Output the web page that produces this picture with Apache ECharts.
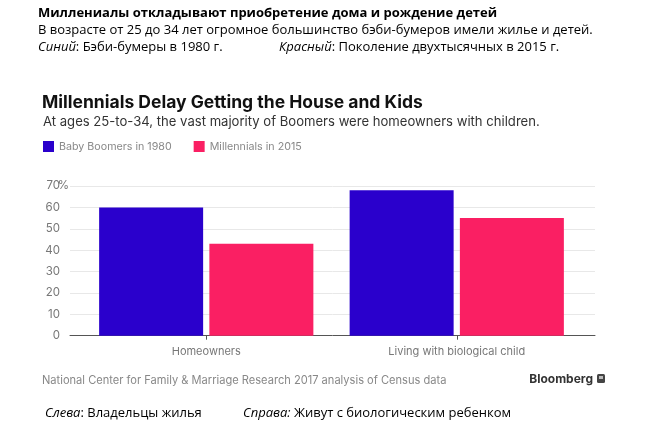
<!DOCTYPE html>
<html><head><meta charset="utf-8">
<script src="https://cdn.jsdelivr.net/npm/echarts@6/dist/echarts.min.js"></script>
<style>html,body{margin:0;padding:0;background:#fff}#c{width:650px;height:431px}</style>
</head><body><div id="c"></div>
<script>
const categories = ['Homeowners', 'Living with biological child'];
const boomers1980 = [60, 68];
const millennials2015 = [43, 55];
const yTicks = [0, 10, 20, 30, 40, 50, 60, 70];
const seriesNames = ['Baby Boomers in 1980', 'Millennials in 2015'];

const chart = echarts.init(document.getElementById('c'));
const ruFont = '"Open Sans", "Noto Sans", sans-serif';
const enFont = 'Inter, Roboto, sans-serif';
const gridTop = 186, gridBottom = 431 - 335.7;
const ruStyle = {fontFamily: ruFont, fontSize: 13, fontWeight: 'normal', color: '#000',
  rich: {i: {fontFamily: ruFont, fontSize: 13, fontStyle: 'italic', color: '#000'}}};
chart.setOption({
  backgroundColor: '#fff',
  animation: false,
  title: [
    {text: 'Миллениалы откладывают приобретение дома и рождение детей', left: 38, top: 7, padding: 0,
     textStyle: {fontFamily: ruFont, fontSize: 13, fontWeight: 'bold', color: '#000'}},
    {text: 'В возрасте от 25 до 34 лет огромное большинство бэби-бумеров имели жилье и детей.', left: 38, top: 24, padding: 0,
     textStyle: {fontFamily: ruFont, fontSize: 13, fontWeight: 'normal', color: '#000'}},
    {text: '{i|Синий}: Бэби-бумеры в 1980 г.', left: 38, top: 41, padding: 0, textStyle: ruStyle},
    {text: '{i|Красный}: Поколение двухтысячных в 2015 г.', left: 279, top: 41, padding: 0, textStyle: ruStyle},
    {text: 'Millennials Delay Getting the House and Kids', left: 42, top: 94, padding: 0,
     textStyle: {fontFamily: enFont, fontSize: 17.5, fontWeight: 'bold', color: '#111'}},
    {text: 'At ages 25-to-34, the vast majority of Boomers were homeowners with children.', left: 43, top: 116, padding: 0,
     textStyle: {fontFamily: enFont, fontSize: 13.1, fontWeight: 'normal', color: '#333'}},
    {text: 'National Center for Family & Marriage Research 2017 analysis of Census data', left: 42, top: 375, padding: 0,
     textStyle: {fontFamily: enFont, fontSize: 11.1, fontWeight: 'normal', color: '#888'}},
    {text: 'Bloomberg', right: 57, top: 373, padding: 0,
     textStyle: {fontFamily: enFont, fontSize: 12, fontWeight: 'bold', color: '#333'}},
    {text: '{i|Слева}: Владельцы жилья', left: 45, top: 407, padding: 0, textStyle: ruStyle},
    {text: '{i|Справа:} Живут с биологическим ребенком', left: 243, top: 407, padding: 0, textStyle: ruStyle}
  ],
  graphic: [
    {type: 'rect', shape: {x: 597, y: 374, width: 8, height: 9, r: 1.5}, style: {fill: '#444'}},
    {type: 'rect', shape: {x: 599, y: 376, width: 4, height: 3}, style: {fill: '#bbb'}}
  ],
  legend: {
    left: 43, top: 141, padding: 0, icon: 'rect', itemWidth: 11, itemHeight: 11, itemGap: 22,
    data: seriesNames,
    textStyle: {fontFamily: enFont, fontSize: 10.7, color: '#888'}
  },
  grid: [
    {left: 70, right: 55, top: gridTop, bottom: gridBottom},
    {left: 81, right: 68, top: gridTop, bottom: gridBottom}
  ],
  xAxis: [
    {type: 'category', gridIndex: 0, data: categories, axisLabel: {show: false}, axisTick: {show: false},
     axisLine: {lineStyle: {color: '#555', width: 1}}},
    {type: 'category', gridIndex: 1, data: categories,
     axisLine: {show: false},
     axisTick: {show: true, alignWithLabel: true, length: 4, lineStyle: {color: '#555'}},
     axisLabel: {fontFamily: enFont, fontSize: 11, color: '#777', margin: 10}}
  ],
  yAxis: [
    {type: 'value', gridIndex: 0, min: 0, max: 70, interval: 10,
     axisLine: {show: false}, axisTick: {show: false},
     splitLine: {lineStyle: {color: '#e8e8e8'}},
     axisLabel: {fontFamily: enFont, fontSize: 11.5, color: '#777', margin: 1,
       formatter: v => yTicks.includes(v) ? (v === 70 ? '{n|' + v + '}{p|%}' : '{m|' + v + '}') : '',
       rich: {
         n: {fontFamily: enFont, fontSize: 11.5, color: '#777'},
         p: {fontFamily: enFont, fontSize: 11.5, color: '#777', width: 9, align: 'right'},
         m: {fontFamily: enFont, fontSize: 11.5, color: '#777', padding: [0, 9, 0, 0]}
       }}},
    {type: 'value', gridIndex: 1, min: 0, max: 70, interval: 10, show: false}
  ],
  series: [
    {name: seriesNames[0], type: 'bar', xAxisIndex: 1, yAxisIndex: 1, data: boomers1980,
     barWidth: 104, barGap: '6%', itemStyle: {color: '#2a00cc'}},
    {name: seriesNames[1], type: 'bar', xAxisIndex: 1, yAxisIndex: 1, data: millennials2015,
     barWidth: 104, barGap: '6%', itemStyle: {color: '#fa1f63'}}
  ]
});
</script></body></html>
